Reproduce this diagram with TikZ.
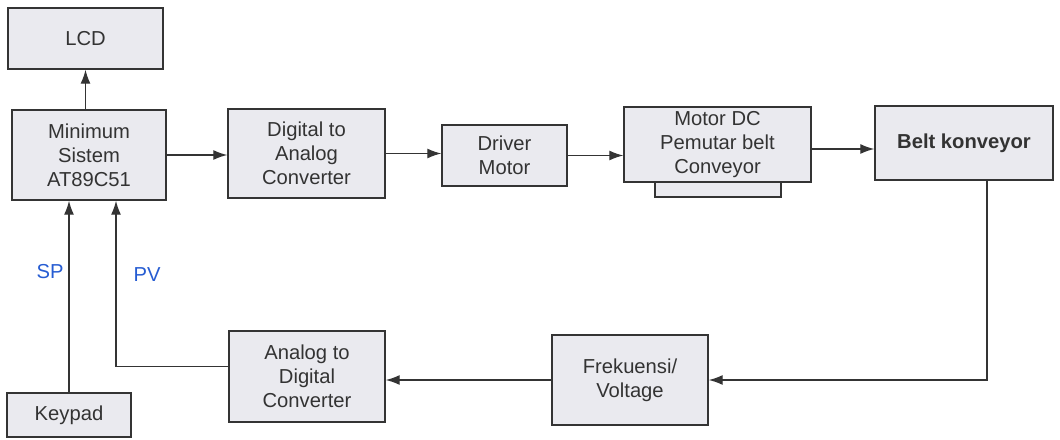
\documentclass[tikz,border=0pt]{standalone}
\usepackage{fontspec}
\setmainfont{Liberation Sans}
\usepackage{xcolor}
\usepackage{tikz}
\usetikzlibrary{arrows.meta,positioning,calc}

\definecolor{boxfill}{RGB}{234,234,239}
\definecolor{boxline}{RGB}{52,52,52}
\definecolor{labelblue}{RGB}{38,92,210}

\begin{document}
\begin{tikzpicture}[every node/.style={font=\fontsize{11.5}{13.6}\selectfont},
  block/.style={draw=boxline,line width=0.8pt,fill=boxfill,align=center,
    inner sep=0pt,text=black!80},
  link/.style={draw=boxline,line width=0.75pt},
  flow/.style={link,-{Latex[length=2.8mm,width=2mm]}}]
  \useasboundingbox (0,0) rectangle (21.2,-8.78);
  % upper row
  \node[block,minimum width=3.10cm,minimum height=1.22cm] (lcd) at (1.71,-0.77) {LCD};
  \node[block,minimum width=3.08cm,minimum height=1.80cm] (ms) at (1.78,-3.10)
    {Minimum\\Sistem\\AT89C51};
  \node[block,minimum width=3.14cm,minimum height=1.78cm] (dac) at (6.13,-3.07)
    {Digital to\\Analog\\Converter};
  \node[block,minimum width=2.50cm,minimum height=1.22cm] (drv) at (10.09,-3.11)
    {Driver\\Motor};
  \node[block,minimum width=2.52cm,minimum height=0.30cm] (base) at (14.36,-3.79) {};
  \node[block,minimum width=3.74cm,minimum height=1.50cm] (mot) at (14.35,-2.89)
    {Motor DC\\Pemutar belt\\Conveyor};
  \node[block,minimum width=3.56cm,minimum height=1.48cm,font=\fontsize{11.5}{13.6}\selectfont\bfseries]
    (belt) at (19.28,-2.86) {Belt konveyor};
  % lower row
  \node[block,minimum width=2.48cm,minimum height=0.88cm] (kp) at (1.38,-8.30) {Keypad};
  \node[block,minimum width=3.12cm,minimum height=1.82cm] (adc) at (6.14,-7.53)
    {Analog to\\Digital\\Converter};
  \node[block,minimum width=3.12cm,minimum height=1.80cm] (frek) at (12.60,-7.60)
    {Frekuensi/\\Voltage};
  % labels
  \node[text=labelblue] (sp) at (1.00,-5.44) {SP};
  \node[text=labelblue] (pv) at (2.94,-5.50) {PV};
  % forward path
  \draw[flow] (lcd.south |- ms.north) -- (lcd.south);
  \draw[flow] (ms.east) -- (ms.east -| dac.west);
  \draw[flow] (dac.east) -- (dac.east -| drv.west);
  \draw[flow] (drv.east) -- (drv.east -| mot.west);
  \draw[flow] ([yshift=-0.09cm]mot.east) -- ([yshift=-0.09cm]mot.east -| belt.west);
  % feedback path
  \draw[flow] ([xshift=0.46cm]belt.south) |- (frek.east);
  \draw[flow] (frek.west) -- (frek.west -| adc.east);
  \draw[flow] ([yshift=0.2cm]adc.west) -| ([xshift=0.54cm]ms.south);
  \draw[flow] (kp.north) -- (kp.north |- ms.south);
\end{tikzpicture}
\end{document}
